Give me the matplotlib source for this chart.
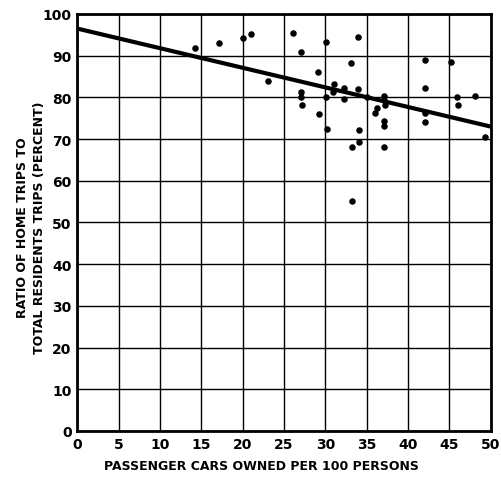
import matplotlib
matplotlib.use("Agg")
import matplotlib.pyplot as plt
import numpy as np

# Data
cars = [14.2, 17.1, 20.0, 21.0, 23.1, 26.1, 27.0, 30.1, 34.0, 33.1, 29.1,
        27.05, 27.1, 27.2, 29.2, 30.1, 30.2, 31.0, 30.9, 32.2, 32.3, 34.0,
        34.1, 34.1, 33.2, 35.0, 36.2, 36.0, 37.1, 37.1, 37.2, 37.1, 37.1,
        37.1, 42.1, 42.0, 42.0, 42.0, 45.2, 45.9, 46.1, 48.1, 49.3, 33.25]
ratio = [91.9, 93.1, 94.2, 95.3, 84.0, 95.5, 91.0, 93.4, 94.5, 88.2, 86.0,
         81.2, 80.2, 78.1, 76.0, 80.1, 72.3, 83.1, 81.2, 82.2, 79.6, 81.9,
         72.1, 69.2, 68.1, 80.2, 77.5, 76.2, 80.4, 79.4, 78.2, 74.3, 73.1,
         68.1, 89.0, 82.2, 76.3, 74.2, 88.4, 80.2, 78.2, 80.3, 70.5, 55.2]
line_x = [0, 50]
line_y = [96.5, 73.0]
x_ticks = [0, 5, 10, 15, 20, 25, 30, 35, 40, 45, 50]
y_ticks = [0, 10, 20, 30, 40, 50, 60, 70, 80, 90, 100]

fig = plt.figure(figsize=(5.01, 4.85), dpi=100)
ax = fig.add_axes([0.1543, 0.1093, 0.8251, 0.8598])

ax.set_xlim(0, 50)
ax.set_ylim(0, 100)
ax.set_xticks(x_ticks)
ax.set_yticks(y_ticks)
ax.set_xticklabels([str(t) for t in x_ticks], fontsize=10, fontweight='bold')
ax.set_yticklabels([str(t) for t in y_ticks], fontsize=10, fontweight='bold')
ax.tick_params(length=0, pad=4)

ax.grid(True, color='black', linewidth=1.0)
ax.set_axisbelow(True)
for s in ax.spines.values():
    s.set_linewidth(2)
    s.set_color('black')

ax.plot(line_x, line_y, color='black', linewidth=3, solid_capstyle='butt', zorder=3)
ax.scatter(cars, ratio, s=22, color='black', zorder=4, linewidths=0)

fig.text(261 / 501, 1 - 467 / 485, 'PASSENGER CARS OWNED PER 100 PERSONS',
         fontsize=9, fontweight='bold', ha='center', va='center')
fig.text(31 / 501, 1 - 228 / 485,
         'RATIO OF HOME TRIPS TO\nTOTAL RESIDENTS TRIPS (PERCENT)',
         fontsize=9, fontweight='bold', ha='center', va='center',
         rotation=90, linespacing=1.4, multialignment='center')

fig.savefig('out.png', dpi=100)
